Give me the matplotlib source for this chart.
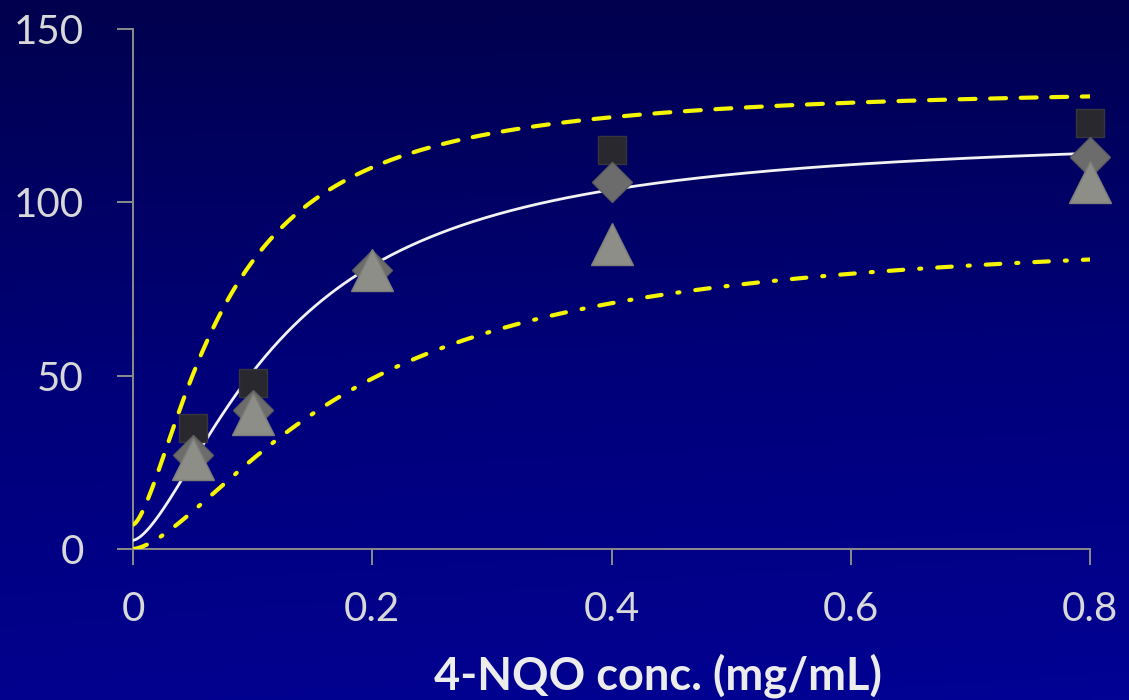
import matplotlib.pyplot as plt
import numpy as np
from matplotlib.colors import LinearSegmentedColormap

# measured response at each 4-NQO concentration (three replicate series)
conc = [0.05, 0.1, 0.2, 0.4, 0.8]
rep_square = [35, 48, np.nan, 115, 123]
rep_diamond = [27, 40, 80.5, 106, 113]
rep_triangle = [26, 39, 80.5, 88, 106]

# logistic fit and its bands: (bottom, top, ec50, hill slope)
fit_params = (2.5, 120.5, 0.126, 1.55)
upper_params = (7.0, 134.0, 0.077, 1.53)
lower_params = (0.0, 92.0, 0.183, 1.55)

x_ticks = [0, 0.2, 0.4, 0.6, 0.8]
x_ticklabels = ["0", "0.2", "0.4", "0.6", "0.8"]
y_ticks = [0, 50, 100, 150]
x_label = "4-NQO conc. (mg/mL)"


def hill(x, bottom, top, ec50, n):
    return bottom + (top - bottom) * x**n / (ec50**n + x**n)


plt.rcParams["font.family"] = ["Lato", "DejaVu Sans"]
plt.rcParams["lines.scale_dashes"] = False

fig = plt.figure(figsize=(11.29, 7), dpi=100)

# navy background, darker at the top
bg = fig.add_axes([0, 0, 1, 1], zorder=-10)
bg.axis("off")
yy, xx = np.mgrid[0:1:200j, 0:1:300j]
shade = 0.88 * yy + 0.12 * xx * yy
cmap = LinearSegmentedColormap.from_list("navy", ["#00004e", "#00007a", "#020294"])
bg.imshow(shade, cmap=cmap, aspect="auto", extent=[0, 1, 0, 1], origin="upper")

ax = fig.add_axes([133 / 1129, 1 - 549 / 700, (1090 - 133) / 1129, (549 - 29) / 700])
ax.set_facecolor("none")

xs = np.linspace(0, 0.8, 400)
ax.plot(xs, hill(xs, *fit_params), color="#f2f2f2", lw=2.0, zorder=3)
ax.plot(xs, hill(xs, *upper_params), color="#f5f500", lw=3.0, zorder=3,
        dashes=(11.5, 10.5), dash_capstyle="round")
ax.plot(xs, hill(xs, *lower_params), color="#f5f500", lw=3.0, zorder=3,
        dashes=(10.5, 11.5, 1.5, 11.5), dash_capstyle="round")

ax.plot(conc, rep_square, "s", ms=19.5, color="#28282e", mec="#36363c", mew=1,
        zorder=4, clip_on=False)
ax.plot(conc, rep_diamond, "D", ms=20.4, color="#6c6c6c", mec="#5e5e5e", mew=1,
        zorder=5, clip_on=False)
ax.plot(conc, rep_triangle, "^", ms=30, color="#8e8e88", mec="#7e7e78", mew=1,
        zorder=6, clip_on=False)

ax.set_xlim(0, 0.8)
ax.set_ylim(0, 150)
ax.set_xticks(x_ticks)
ax.set_xticklabels(x_ticklabels)
ax.set_yticks(y_ticks)

for side in ("top", "right"):
    ax.spines[side].set_visible(False)
for side in ("left", "bottom"):
    ax.spines[side].set_color("#8c8c8c")
    ax.spines[side].set_linewidth(1.4)
    ax.spines[side].set_zorder(2)

ax.tick_params(axis="both", direction="out", length=11.5, width=1.4,
               color="#8c8c8c", labelcolor="#d8d8d8", labelsize=29)
ax.tick_params(axis="y", pad=24)
ax.tick_params(axis="x", pad=19)

fig.text(658 / 1129, 1 - 690 / 700, x_label, ha="center", va="baseline",
         fontsize=32.5, fontweight="bold", color="#ececec")

fig.savefig("out.png", dpi=100)
